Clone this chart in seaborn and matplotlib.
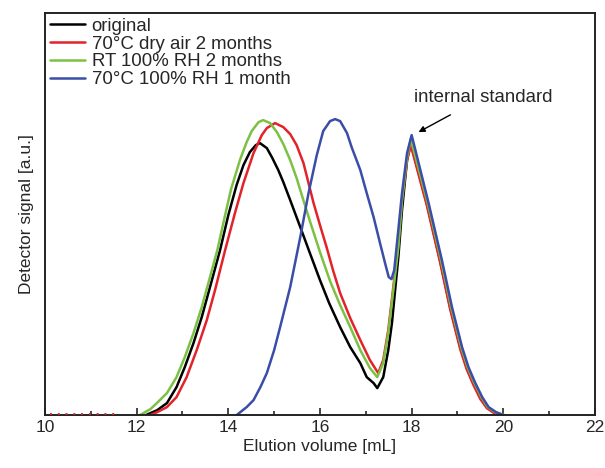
import numpy as np
import pandas as pd
import seaborn as sns
import matplotlib
matplotlib.use("Agg")
import matplotlib.pyplot as plt

labels = ["original", "70°C dry air 2 months", "RT 100% RH 2 months", "70°C 100% RH 1 month"]
colors = ["#000000", "#e3232a", "#7cc143", "#3a4da8"]

x_original = [12.2, 12.45, 12.66, 12.87, 13.05, 13.24, 13.42, 13.6, 13.82, 14.0, 14.18, 14.33, 14.47,
              14.6, 14.69, 14.84, 14.95, 15.09, 15.2, 15.35, 15.57, 15.78, 16.0, 16.2, 16.44, 16.66,
              16.88, 17.02, 17.17, 17.25, 17.38, 17.49, 17.57, 17.64, 17.71, 17.79, 17.9, 17.98,
              18.33, 18.62, 18.84, 19.06, 19.2, 19.35, 19.5, 19.64, 19.8, 20.0]
y_original = [0, 5, 12, 28, 48, 72, 98, 128, 165, 200, 230, 250, 263,
              270, 272, 267, 258, 245, 233, 215, 188, 162, 135, 112, 88, 68,
              52, 38, 32, 27, 38, 65, 92, 125, 158, 205, 255, 272,
              212, 155, 108, 68, 48, 32, 18, 8, 3, 0]

x_dry = [12.29, 12.45, 12.66, 12.87, 13.09, 13.31, 13.53, 13.71, 13.93, 14.15, 14.33, 14.55, 14.73,
         14.84, 15.02, 15.2, 15.35, 15.49, 15.64, 15.75, 15.86, 16.0, 16.15, 16.29, 16.44, 16.66,
         16.88, 17.09, 17.27, 17.38, 17.49, 17.6, 17.71, 17.79, 17.9, 17.98,
         18.33, 18.62, 18.84, 19.06, 19.2, 19.35, 19.5, 19.64, 19.8, 20.0]
y_dry = [0, 3, 8, 18, 38, 65, 95, 125, 165, 203, 232, 262, 280,
         287, 292, 288, 281, 270, 252, 232, 212, 190, 167, 144, 122, 97,
         75, 55, 42, 55, 85, 128, 172, 215, 255, 270,
         210, 153, 106, 66, 46, 30, 16, 7, 2, 0]

x_rt = [12.07, 12.3, 12.44, 12.66, 12.87, 13.05, 13.24, 13.42, 13.6, 13.76, 13.92, 14.06, 14.26,
        14.4, 14.51, 14.66, 14.76, 14.91, 15.06, 15.2, 15.35, 15.49, 15.57, 15.78, 16.0, 16.22,
        16.44, 16.66, 16.88, 17.09, 17.25, 17.38, 17.49, 17.6, 17.71, 17.79, 17.9, 17.98,
        18.35, 18.64, 18.86, 19.08, 19.22, 19.37, 19.52, 19.66, 19.82, 20.03]
y_rt = [0, 6, 12, 22, 38, 58, 82, 108, 138, 165, 198, 226, 256,
        273, 284, 293, 295, 292, 283, 271, 255, 237, 225, 194, 163, 134,
        110, 88, 65, 47, 38, 52, 82, 125, 168, 215, 258, 276,
        212, 155, 108, 68, 48, 32, 18, 8, 3, 0]

x_wet = [14.18, 14.4, 14.55, 14.7, 14.84, 15.0, 15.13, 15.35, 15.57, 15.75, 15.93, 16.07, 16.22,
         16.33, 16.44, 16.59, 16.69, 16.88, 17.02, 17.17, 17.31, 17.42, 17.5, 17.56, 17.62, 17.68,
         17.79, 17.9, 18.0, 18.37, 18.66, 18.88, 19.1, 19.24, 19.39, 19.54, 19.68, 19.84, 20.0]
y_wet = [0, 8, 15, 28, 42, 65, 88, 128, 178, 222, 260, 284, 294,
         296, 294, 282, 268, 245, 222, 198, 172, 152, 138, 136, 145, 172,
         222, 262, 280, 212, 155, 108, 68, 48, 32, 18, 8, 3, 0]

xs = [x_original, x_dry, x_rt, x_wet]
ys = [y_original, y_dry, y_rt, y_wet]

frames = []
for lab, xv, yv in zip(labels, xs, ys):
    frames.append(pd.DataFrame({"x": xv, "y": yv, "sample": lab}))
df = pd.concat(frames, ignore_index=True)

sns.set_style("ticks")
plt.rcParams["font.family"] = ["Liberation Sans", "DejaVu Sans"]
plt.rcParams["lines.solid_joinstyle"] = "round"

fig = plt.figure(figsize=(6.05, 4.68), dpi=100)
ax = fig.add_axes([0.0744, 0.113, 0.909, 0.859])

sns.lineplot(data=df, x="x", y="y", hue="sample", hue_order=labels,
             palette=colors, linewidth=1.8, sort=True, estimator=None, ax=ax, legend=False)

# baseline noise of red trace
ax.plot([10.1, 11.6], [1.0, 1.0], ls=(0, (1, 3)), color=colors[1], lw=1.4,
        zorder=3, clip_on=False)

handles = [plt.Line2D([], [], color=c, lw=1.8) for c in colors]
ax.legend(handles, labels, loc="upper left", frameon=False, fontsize=13.4,
          handlelength=1.9, handletextpad=0.35, labelspacing=0.04,
          borderpad=0.15, borderaxespad=0.1)

ax.annotate("internal standard", xy=(18.15, 283), xytext=(19.56, 318),
            ha="center", va="center", fontsize=13.4,
            arrowprops=dict(arrowstyle="-|>", color="black", lw=1.0,
                            shrinkA=9, shrinkB=0, mutation_scale=9))

ax.set_xlim(10, 22)
ax.set_ylim(0, 402)
ax.set_xticks([10, 12, 14, 16, 18, 20, 22])
ax.set_xticks([11, 13, 15, 17, 19, 21], minor=True)
ax.set_yticks([])
ax.tick_params(axis="x", which="both", direction="in", labelsize=12.5, width=1.2)
ax.tick_params(axis="x", which="major", length=5)
ax.tick_params(axis="x", which="minor", length=3)
ax.set_xlabel("Elution volume [mL]", fontsize=12.5, labelpad=3)
ax.set_ylabel("Detector signal [a.u.]", fontsize=12.5, labelpad=8)
for s in ax.spines.values():
    s.set_linewidth(1.4)
    s.set_color("#222222")

fig.savefig("out.png", dpi=100)
